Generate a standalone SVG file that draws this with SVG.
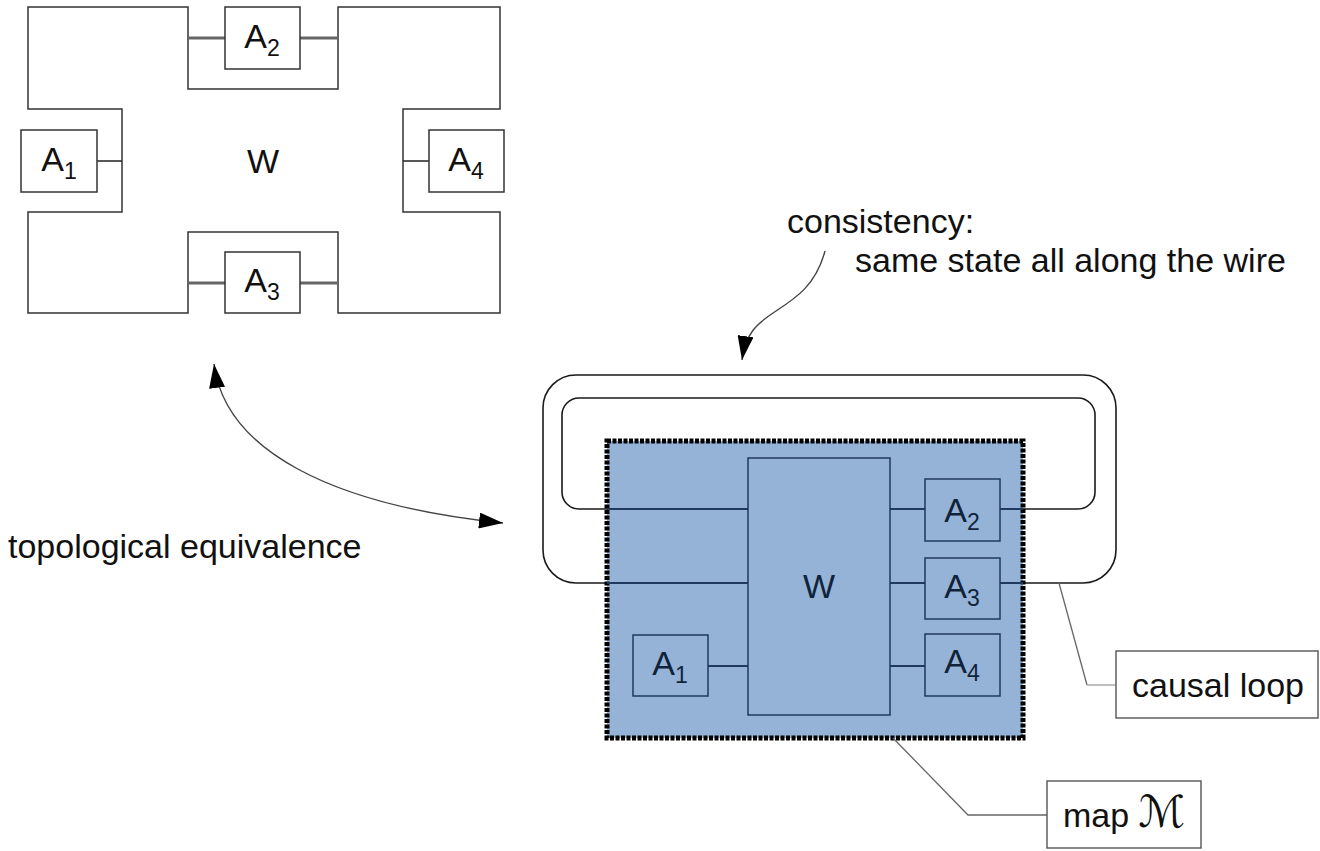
<svg xmlns="http://www.w3.org/2000/svg" width="1320" height="851" viewBox="0 0 1320 851">
  <style>
    text { font-family: "Liberation Sans", Arial, sans-serif; font-size: 34px; fill: #111; }
    .mid { text-anchor: middle; }
    .sub { font-size: 23px; }
    .outline { fill: none; stroke: #333; stroke-width: 1.5; }
    .box { fill: #fff; stroke: #333; stroke-width: 1.5; }
    .wire-thin { stroke: #222; stroke-width: 1.5; fill: none; }
    .wire-thick { stroke: #666; stroke-width: 3; fill: none; }
    .loop { fill: none; stroke: #1a1a1a; stroke-width: 1.6; }
    .map { fill: #95b3d7; stroke: #000; stroke-width: 5; stroke-dasharray: 4 1.5; }
    .bbox { fill: #95b3d7; stroke: #1f3a5c; stroke-width: 1.5; }
    .bwire { stroke: #1f3a5c; stroke-width: 2.2; fill: none; }
    .btext { fill: #10233a; }
    .label { fill: #fff; stroke: #555; stroke-width: 1.4; }
    .leader { fill: none; stroke: #666; stroke-width: 1.3; }
    .leader-light { fill: none; stroke: #aaa; stroke-width: 1.5; }
    .curve { fill: none; stroke: #444; stroke-width: 1.4; }
  </style>
  <defs>
    <marker id="head" viewBox="0 0 24 16" refX="24" refY="8" markerWidth="24" markerHeight="16" markerUnits="userSpaceOnUse" orient="auto-start-reverse">
      <path d="M0,0 L24,8 L0,16 z" fill="#000"/>
    </marker>
  </defs>

  <!-- Left: world W drawn as a block with four agent slots -->
  <g id="left-W">
    <path class="outline" d="M28,7 H188 V89 H338 V7 H500 V109 H403 V212 H500 V313 H338 V232 H188 V313 H28 V212 H122 V109 H28 Z"/>
    <text class="mid" x="263" y="173">W</text>
  </g>
  <g id="left-wires">
    <path class="wire-thick" d="M188,38 H225 M300,38 H338 M188,283 H225 M300,283 H338"/>
    <path class="wire-thin" d="M97,161 H122 M403,161 H429"/>
  </g>
  <g id="left-A1">
    <rect class="box" x="21" y="130" width="76" height="62"/>
    <text class="mid" x="59" y="171">A<tspan class="sub" dy="8">1</tspan></text>
  </g>
  <g id="left-A2">
    <rect class="box" x="225" y="7" width="75" height="62"/>
    <text class="mid" x="262" y="48">A<tspan class="sub" dy="8">2</tspan></text>
  </g>
  <g id="left-A3">
    <rect class="box" x="225" y="252" width="75" height="61"/>
    <text class="mid" x="262" y="292">A<tspan class="sub" dy="8">3</tspan></text>
  </g>
  <g id="left-A4">
    <rect class="box" x="429" y="130" width="75" height="62"/>
    <text class="mid" x="466" y="171">A<tspan class="sub" dy="8">4</tspan></text>
  </g>

  <!-- Right: causal loops (drawn beneath the map) -->
  <g id="connectors">
    <rect class="loop" x="543" y="375" width="573" height="208" rx="33" ry="33"/>
    <rect class="loop" x="562" y="398" width="533" height="111" rx="17" ry="17"/>
  </g>

  <!-- Map M region -->
  <g id="map-M">
    <rect class="map" x="607" y="441" width="416" height="297"/>
  </g>

  <g id="map-wires">
    <path class="bwire" d="M607,509 H748 M607,583 H748 M890,509 H925 M890,583 H925 M890,666 H925 M708,666 H748 M1000,509 H1023 M1000,583 H1023"/>
  </g>

  <g id="right-W">
    <rect class="bbox" x="748" y="458" width="142" height="257"/>
    <text class="mid btext" x="819" y="598">W</text>
  </g>
  <g id="right-A1">
    <rect class="bbox" x="633" y="635" width="75" height="61"/>
    <text class="mid btext" x="670" y="675">A<tspan class="sub" dy="8">1</tspan></text>
  </g>
  <g id="right-A2">
    <rect class="bbox" x="925" y="479" width="75" height="62"/>
    <text class="mid btext" x="962" y="522">A<tspan class="sub" dy="8">2</tspan></text>
  </g>
  <g id="right-A3">
    <rect class="bbox" x="925" y="558" width="75" height="61"/>
    <text class="mid btext" x="962" y="598">A<tspan class="sub" dy="8">3</tspan></text>
  </g>
  <g id="right-A4">
    <rect class="bbox" x="925" y="634" width="75" height="62"/>
    <text class="mid btext" x="962" y="673">A<tspan class="sub" dy="8">4</tspan></text>
  </g>

  <!-- Annotations -->
  <g id="arrows">
    <path class="curve" d="M214,364 C225,450 330,505 503,523" marker-start="url(#head)" marker-end="url(#head)"/>
    <path class="curve" d="M825,251 C816,285 796,298 776,311 C756,324 746,333 742,360" marker-end="url(#head)"/>
    <path class="leader" d="M1059,583 L1087,685"/>
    <path class="leader-light" d="M1087,685 H1116"/>
    <path class="leader" d="M893,738 L968,815 H1047"/>
  </g>

  <g id="note-equivalence">
    <text x="8" y="558">topological equivalence</text>
  </g>
  <g id="note-consistency">
    <text x="787" y="233">consistency:</text>
    <text x="855" y="272">same state all along the wire</text>
  </g>
  <g id="label-causal-loop">
    <rect class="label" x="1116" y="651" width="202" height="67"/>
    <text x="1132" y="697">causal loop</text>
  </g>
  <g id="label-map">
    <rect class="label" x="1047" y="781" width="154" height="67"/>
    <text x="1063" y="827">map <tspan style="font-family: 'DejaVu Serif', 'DejaVu Sans', serif; font-size: 44px;">ℳ</tspan></text>
  </g>
</svg>
